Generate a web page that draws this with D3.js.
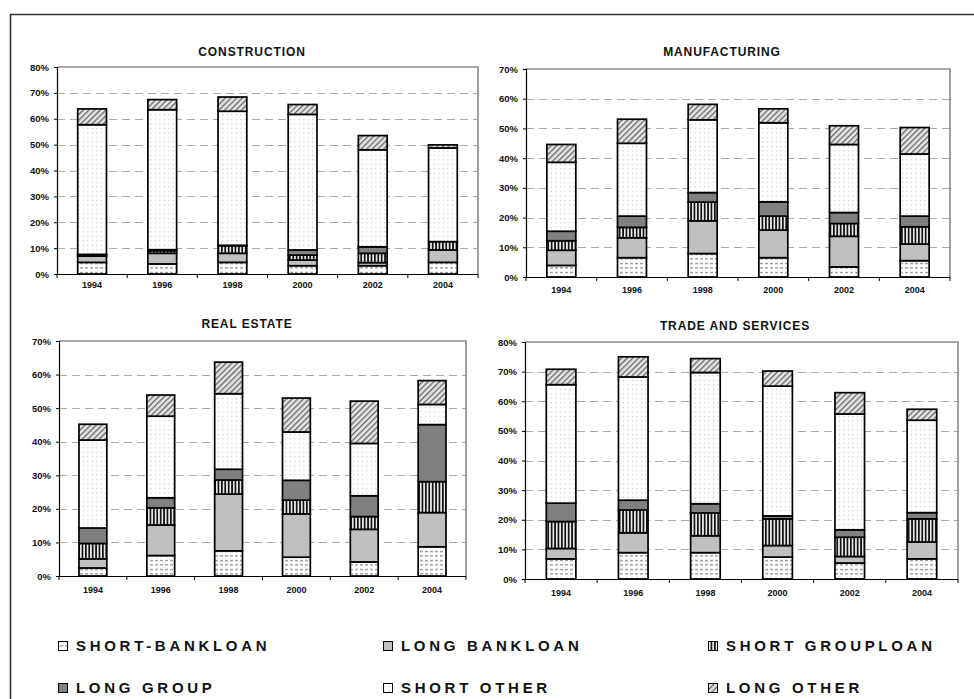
<!DOCTYPE html>
<html>
<head>
<meta charset="utf-8">
<script src="https://cdn.jsdelivr.net/npm/d3@7"></script>
<style>
  html, body { margin: 0; padding: 0; background: #fff; }
  svg { display: block; font-family: "Liberation Sans", Arial, sans-serif; }
</style>
</head>
<body>
<svg id="chart" width="974" height="699"></svg>
<script>
// ---------- DATA ----------
const years = ["1994", "1996", "1998", "2000", "2002", "2004"];
const seriesNames = ["SHORT-BANKLOAN", "LONG BANKLOAN", "SHORT GROUPLOAN", "LONG GROUP", "SHORT OTHER", "LONG OTHER"];
const panelTitles = ["CONSTRUCTION", "MANUFACTURING", "REAL ESTATE", "TRADE AND SERVICES"];
const yMaxes = [80, 70, 70, 80];

// values in percent, one array per series (bottom to top), one value per year
const construction = [
  [4.5, 3.9, 4.5, 3.2, 3.2, 4.5],
  [2.4, 4.1, 3.5, 2.2, 1.2, 4.8],
  [0.3, 1.0, 2.9, 1.9, 3.6, 3.2],
  [0.4, 0.4, 0.2, 2.0, 2.5, 0.0],
  [50.1, 54.1, 51.8, 52.4, 37.5, 36.2],
  [6.1, 3.9, 5.5, 3.8, 5.5, 1.2]
];
const manufacturing = [
  [3.9, 6.5, 7.9, 6.5, 3.4, 5.5],
  [5.1, 6.7, 11.0, 9.3, 10.3, 5.6],
  [3.2, 3.5, 6.3, 4.7, 4.3, 5.8],
  [3.2, 3.8, 3.2, 4.8, 3.7, 3.6],
  [23.2, 24.5, 24.5, 26.6, 22.9, 20.9],
  [6.0, 8.1, 5.2, 4.7, 6.3, 8.9]
];
const realEstate = [
  [2.4, 6.1, 7.5, 5.6, 4.2, 8.7],
  [2.7, 9.1, 16.9, 12.9, 9.7, 10.2],
  [4.6, 5.1, 4.2, 4.1, 3.8, 9.2],
  [4.6, 3.0, 3.2, 5.9, 6.2, 17.0],
  [26.2, 24.3, 22.5, 14.4, 15.6, 6.0],
  [4.7, 6.3, 9.4, 10.1, 12.6, 7.1]
];
const tradeServices = [
  [6.8, 8.9, 8.9, 7.4, 5.4, 6.8],
  [3.5, 6.7, 5.7, 3.9, 2.2, 5.7],
  [9.1, 7.7, 7.7, 9.0, 6.5, 7.8],
  [6.2, 3.3, 3.1, 1.0, 2.5, 2.1],
  [40.0, 41.6, 44.3, 43.8, 39.1, 31.2],
  [5.2, 6.8, 4.7, 5.1, 7.2, 3.7]
];
const panelData = [construction, manufacturing, realEstate, tradeServices];

// ---------- LAYOUT ----------
const layouts = [
  { x0: 57,  x1: 478, y0: 67,  y1: 274, tx: 252, ty: 56,  lx: 288 },
  { x0: 526, x1: 950, y0: 69,  y1: 277, tx: 722, ty: 56,  lx: 293 },
  { x0: 59,  x1: 466, y0: 341, y1: 576, tx: 247, ty: 328, lx: 593 },
  { x0: 525, x1: 958, y0: 342, y1: 579, tx: 735, ty: 330, lx: 596 }
];

const svg = d3.select("#chart");
const defs = svg.append("defs");

// pattern fills
function pat(id, w, h, bg) {
  const p = defs.append("pattern").attr("id", id).attr("patternUnits", "userSpaceOnUse")
    .attr("width", w).attr("height", h);
  p.append("rect").attr("width", w).attr("height", h).attr("fill", bg);
  return p;
}
// short bank loan: horizontal dashes
pat("p0", 5, 4.5, "#fff").append("line").attr("x1", 0).attr("x2", 3).attr("y1", 2.5).attr("y2", 2.5)
  .attr("stroke", "#444").attr("stroke-width", 0.8);
// short group loan: vertical stripes
pat("p2", 3.4, 4, "#e8e8e8").append("rect").attr("x", 0).attr("y", 0).attr("width", 1.7).attr("height", 4)
  .attr("fill", "#111");
// short other: dots
pat("p4", 4.5, 4.5, "#fff").append("rect").attr("x", 2).attr("y", 2).attr("width", 0.9).attr("height", 0.9)
  .attr("fill", "#999");
// long other: diagonal hatch
const p5 = pat("p5", 4, 4, "#e4e4e4").attr("patternTransform", "rotate(45)");
p5.append("rect").attr("x", 0).attr("y", 0).attr("width", 1.3).attr("height", 4).attr("fill", "#666");

const fills = ["url(#p0)", "#c0c0c0", "url(#p2)", "#808080", "url(#p4)", "url(#p5)"];

// outer frame
svg.append("path").attr("d", "M10.5,699 V14.5 H974").attr("fill", "none")
  .attr("stroke", "#333").attr("stroke-width", 1.6);

panelData.forEach((data, pi) => {
  const L = layouts[pi];
  const g = svg.append("g");
  const x = d3.scaleBand().domain(years).range([L.x0, L.x1]).paddingInner(0.59).paddingOuter(0.295);
  const y = d3.scaleLinear().domain([0, yMaxes[pi]]).range([L.y1, L.y0]);
  const ticks = d3.range(0, yMaxes[pi] + 1, 10);

  // gridlines
  g.append("g").selectAll("line").data(ticks.filter(t => t > 0 && t < yMaxes[pi])).join("line")
    .attr("x1", L.x0).attr("x2", L.x1).attr("y1", d => Math.round(y(d)) + 0.5).attr("y2", d => Math.round(y(d)) + 0.5)
    .attr("stroke", "#aaaaaa").attr("stroke-width", 1).attr("stroke-dasharray", "8,5");

  // plot border top/right (gray)
  g.append("path").attr("d", `M${L.x0},${L.y0} H${L.x1} V${L.y1}`).attr("fill", "none")
    .attr("stroke", "#8a8a8a").attr("stroke-width", 1.6);

  // stacked bars
  const rows = years.map((yr, i) => {
    const o = { year: yr };
    seriesNames.forEach((s, si) => o[s] = data[si][i]);
    return o;
  });
  const stacked = d3.stack().keys(seriesNames)(rows);
  stacked.forEach((layer, si) => {
    g.append("g").selectAll("rect").data(layer).join("rect")
      .attr("x", d => x(d.data.year))
      .attr("width", x.bandwidth())
      .attr("y", d => y(d[1]))
      .attr("height", d => Math.max(0, y(d[0]) - y(d[1])))
      .attr("fill", fills[si])
      .attr("stroke", "#000").attr("stroke-width", 1.7);
  });

  // y axis
  const ya = g.append("g").attr("transform", `translate(${L.x0},0)`)
    .call(d3.axisLeft(y).tickValues(ticks).tickFormat(d => d + "%").tickSize(3).tickPadding(5));
  ya.select(".domain").attr("stroke", "#000").attr("stroke-width", 1.2);
  ya.selectAll(".tick line").attr("stroke", "#000");
  ya.selectAll("text").attr("font-size", 9.5).attr("font-weight", "bold").attr("fill", "#111")
    .attr("font-family", "Liberation Sans, Arial, sans-serif");

  // x axis
  const xa = g.append("g").attr("transform", `translate(0,${L.y1})`)
    .call(d3.axisBottom(x).tickSize(0).tickPadding(0));
  xa.select(".domain").remove();
  g.append("line").attr("x1", L.x0).attr("x2", L.x1).attr("y1", L.y1 + 0.5).attr("y2", L.y1 + 0.5)
    .attr("stroke", "#000").attr("stroke-width", 1.2);
  // boundary tick marks
  const bounds = d3.range(years.length + 1).map(i => L.x0 + i * (L.x1 - L.x0) / years.length);
  g.append("g").selectAll("line").data(bounds).join("line")
    .attr("x1", d => d).attr("x2", d => d).attr("y1", L.y1).attr("y2", L.y1 + 4)
    .attr("stroke", "#000").attr("stroke-width", 1);
  xa.selectAll("text").attr("y", L.lx - L.y1).attr("dy", 0)
    .attr("font-size", 9).attr("font-weight", "bold").attr("fill", "#111")
    .attr("font-family", "Liberation Sans, Arial, sans-serif");

  // title
  svg.append("text").attr("x", L.tx).attr("y", L.ty).attr("text-anchor", "middle")
    .attr("font-size", 12).attr("font-weight", "bold").attr("letter-spacing", "0.9px")
    .attr("fill", "#111").text(panelTitles[pi]);
});

// legend
const legendPos = [
  { x: 58, y: 641 }, { x: 383, y: 641 }, { x: 708, y: 641 },
  { x: 58, y: 683 }, { x: 383, y: 683 }, { x: 708, y: 683 }
];
const lg = svg.append("g");
seriesNames.forEach((s, i) => {
  const p = legendPos[i];
  lg.append("rect").attr("x", p.x + 0.5).attr("y", p.y + 0.5).attr("width", 9).attr("height", 9)
    .attr("fill", fills[i]).attr("stroke", "#000").attr("stroke-width", 1);
  lg.append("text").attr("x", p.x + 18).attr("y", p.y + 9.5)
    .attr("font-size", 15).attr("font-weight", "bold").attr("letter-spacing", "3.7px")
    .attr("fill", "#111").text(s);
});
</script>
</body>
</html>
